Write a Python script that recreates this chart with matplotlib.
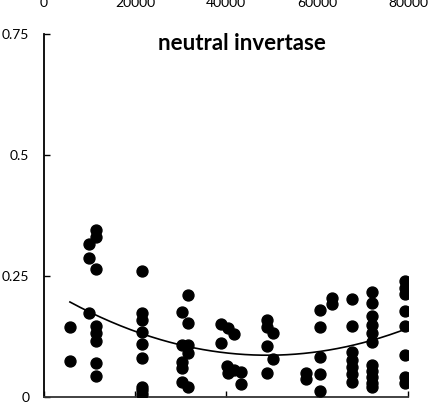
import numpy as np
import matplotlib.pyplot as plt

plt.rcParams['font.family'] = ['Lato', 'DejaVu Sans']

# scatter data (x position, activity)
x_pts = [5700, 5700,
         11400, 11400, 9900, 9900, 11400, 9900, 11400, 11400, 11400, 11400, 11400,
         21500, 21500, 21500, 21500, 21500, 21500, 21500, 21500, 21500,
         31650, 30330, 31650, 30330, 31650, 31650, 30330, 30330, 30330, 31650,
         38900, 40440, 41760, 38900, 40300, 40440, 41760, 43300, 43300,
         49000, 49000, 50300, 49000, 50300, 49000,
         57600, 57600, 60670, 60670, 60670, 60670, 60670,
         63300, 63300, 67700, 67700, 67700, 67700, 67700, 67700, 67700,
         72100, 72100, 72100, 72100, 72100, 72100, 72100, 72100, 72100, 72100, 72100,
         79300, 79300, 79300, 79300, 79300, 79300, 79300, 79300]
y_pts = [0.143, 0.073,
         0.345, 0.330, 0.316, 0.287, 0.264, 0.173, 0.146, 0.131, 0.115, 0.069, 0.042,
         0.260, 0.173, 0.158, 0.133, 0.108, 0.080, 0.020, 0.013, 0.006,
         0.210, 0.175, 0.153, 0.106, 0.106, 0.090, 0.071, 0.059, 0.030, 0.020,
         0.150, 0.142, 0.129, 0.111, 0.063, 0.048, 0.055, 0.051, 0.026,
         0.158, 0.144, 0.131, 0.104, 0.078, 0.049,
         0.049, 0.036, 0.179, 0.144, 0.081, 0.047, 0.011,
         0.204, 0.191, 0.202, 0.146, 0.092, 0.076, 0.061, 0.047, 0.030,
         0.216, 0.193, 0.167, 0.148, 0.131, 0.113, 0.065, 0.053, 0.040, 0.028, 0.020,
         0.239, 0.225, 0.212, 0.177, 0.146, 0.086, 0.040, 0.028]

x_ticks = [0, 20000, 40000, 60000, 80000]
y_ticks = [0, 0.25, 0.5, 0.75]
y_labels = ['0', '0.25', '0.5', '0.75']

fig = plt.figure(figsize=(4.29, 4.03), dpi=100)
ax = fig.add_axes([44/429, 6.5/403, 364/429, 362.5/403])

ax.scatter(x_pts, y_pts, s=62, color='black', zorder=3)

# polynomial trend line, 2nd order like the spreadsheet one
c = np.polyfit(x_pts, y_pts, 2)
xx = np.linspace(min(x_pts), max(x_pts), 200)
ax.plot(xx, np.polyval(c, xx), color='black', lw=1.2, zorder=2)

ax.set_xlim(0, 80000)
ax.set_ylim(0, 0.75)
ax.set_xticks(x_ticks)
ax.set_xticklabels([str(t) for t in x_ticks])
ax.set_yticks(y_ticks)
ax.set_yticklabels(y_labels)

for s in ['top', 'right']:
    ax.spines[s].set_visible(False)
ax.spines['left'].set_linewidth(1.3)
ax.spines['bottom'].set_linewidth(1.3)
ax.spines['bottom'].set_color('#333333')

ax.tick_params(axis='x', direction='in', length=4, width=1, labeltop=True,
               labelbottom=False, top=False, pad=18, labelsize=10, colors='black')
ax.tick_params(axis='y', direction='in', length=4, width=1, pad=10.5, labelsize=10)

ax.text(0.545, 0.975, 'neutral invertase', transform=ax.transAxes, ha='center',
        va='center', fontsize=16, fontweight='bold')

fig.savefig('out.png', dpi=100)
